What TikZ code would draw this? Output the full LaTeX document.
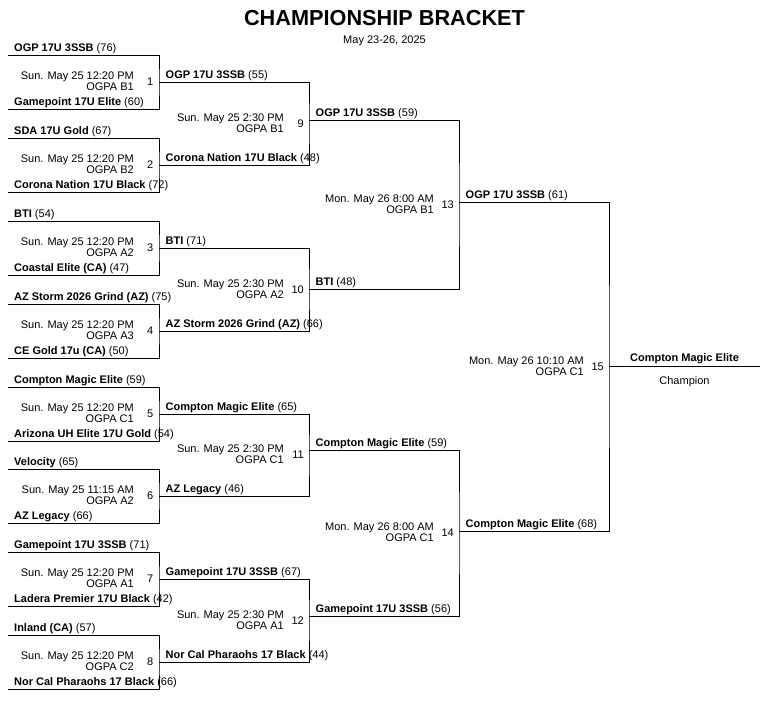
\documentclass[tikz,border=0pt]{standalone}
\usepackage{fontspec}
\setmainfont{Liberation Sans}
\usepackage{tikz}

\begin{document}
\begin{tikzpicture}[x=1pt,y=-1pt,
  bracket/.style={line width=0.9pt},
  team/.style={font=\fontsize{11}{13}\selectfont,inner sep=0pt,anchor=base west},
  slot/.style={font=\fontsize{11}{11}\selectfont,align=right,inner sep=0pt,anchor=east},
  gameno/.style={font=\fontsize{11}{13}\selectfont,inner sep=0pt,anchor=east}]
  \useasboundingbox (0,0) rectangle (779,706);
  \node[font=\bfseries\fontsize{21.7}{26}\selectfont,inner sep=0pt] (title) at (384.5,18) {CHAMPIONSHIP BRACKET};
  \node[font=\fontsize{11}{13}\selectfont,inner sep=0pt] (dates) at (384.5,41) {May 23-26, 2025};

  \coordinate (m1a) at (8,55);   \coordinate (m1b) at (8,109);  \coordinate (m1v) at (159,82);
  \coordinate (m2a) at (8,138);  \coordinate (m2b) at (8,192);  \coordinate (m2v) at (159,165);
  \coordinate (m3a) at (8,221);  \coordinate (m3b) at (8,275);  \coordinate (m3v) at (159,248);
  \coordinate (m4a) at (8,304);  \coordinate (m4b) at (8,358);  \coordinate (m4v) at (159,331);
  \coordinate (m5a) at (8,387);  \coordinate (m5b) at (8,441);  \coordinate (m5v) at (159,414);
  \coordinate (m6a) at (8,469);  \coordinate (m6b) at (8,523);  \coordinate (m6v) at (159,496);
  \coordinate (m7a) at (8,552);  \coordinate (m7b) at (8,606);  \coordinate (m7v) at (159,579);
  \coordinate (m8a) at (8,635);  \coordinate (m8b) at (8,689);  \coordinate (m8v) at (159,662);
  \coordinate (m9v) at (309,123.5);
  \coordinate (m10v) at (309,289.5);
  \coordinate (m11v) at (309,455);
  \coordinate (m12v) at (309,620.5);
  \coordinate (m13a) at (309,120); \coordinate (m13b) at (309,289); \coordinate (m13v) at (459,204.5);
  \coordinate (m14a) at (309,450); \coordinate (m14b) at (309,616); \coordinate (m14v) at (459,533);
  \coordinate (m15a) at (459,202); \coordinate (m15b) at (459,531); \coordinate (m15v) at (609,366.5);
  \coordinate (champ) at (760,366.5);

  \draw[bracket] (m1a) -| (m1v) |- (m1b);
  \draw[bracket] (m2a) -| (m2v) |- (m2b);
  \draw[bracket] (m3a) -| (m3v) |- (m3b);
  \draw[bracket] (m4a) -| (m4v) |- (m4b);
  \draw[bracket] (m5a) -| (m5v) |- (m5b);
  \draw[bracket] (m6a) -| (m6v) |- (m6b);
  \draw[bracket] (m7a) -| (m7v) |- (m7b);
  \draw[bracket] (m8a) -| (m8v) |- (m8b);
  \draw[bracket] (m1v) -| (m9v) |- (m2v);
  \draw[bracket] (m3v) -| (m10v) |- (m4v);
  \draw[bracket] (m5v) -| (m11v) |- (m6v);
  \draw[bracket] (m7v) -| (m12v) |- (m8v);
  \draw[bracket] (m13a) -| (m13v) |- (m13b);
  \draw[bracket] (m14a) -| (m14v) |- (m14b);
  \draw[bracket] (m15a) -| (m15v) |- (m15b);
  \draw[bracket] (m15v) -- (champ);

  \node[team] (t1a) at ([shift={(6pt,3.5pt)}]m1a) {\textbf{OGP 17U 3SSB} (76)};
  \node[team] (t1b) at ([shift={(6pt,3.5pt)}]m1b) {\textbf{Gamepoint 17U Elite} (60)};
  \node[team] (t2a) at ([shift={(6pt,3.5pt)}]m2a) {\textbf{SDA 17U Gold} (67)};
  \node[team] (t2b) at ([shift={(6pt,3.5pt)}]m2b) {\textbf{Corona Nation 17U Black} (72)};
  \node[team] (t3a) at ([shift={(6pt,3.5pt)}]m3a) {\textbf{BTI} (54)};
  \node[team] (t3b) at ([shift={(6pt,3.5pt)}]m3b) {\textbf{Coastal Elite (CA)} (47)};
  \node[team] (t4a) at ([shift={(6pt,3.5pt)}]m4a) {\textbf{AZ Storm 2026 Grind (AZ)} (75)};
  \node[team] (t4b) at ([shift={(6pt,3.5pt)}]m4b) {\textbf{CE Gold 17u (CA)} (50)};
  \node[team] (t5a) at ([shift={(6pt,3.5pt)}]m5a) {\textbf{Compton Magic Elite} (59)};
  \node[team] (t5b) at ([shift={(6pt,3.5pt)}]m5b) {\textbf{Arizona UH Elite 17U Gold} (54)};
  \node[team] (t6a) at ([shift={(6pt,3.5pt)}]m6a) {\textbf{Velocity} (65)};
  \node[team] (t6b) at ([shift={(6pt,3.5pt)}]m6b) {\textbf{AZ Legacy} (66)};
  \node[team] (t7a) at ([shift={(6pt,3.5pt)}]m7a) {\textbf{Gamepoint 17U 3SSB} (71)};
  \node[team] (t7b) at ([shift={(6pt,3.5pt)}]m7b) {\textbf{Ladera Premier 17U Black} (42)};
  \node[team] (t8a) at ([shift={(6pt,3.5pt)}]m8a) {\textbf{Inland (CA)} (57)};
  \node[team] (t8b) at ([shift={(6pt,3.5pt)}]m8b) {\textbf{Nor Cal Pharaohs 17 Black} (66)};

  \node[team] (t9a) at ([shift={(6.5pt,3.5pt)}]m1v) {\textbf{OGP 17U 3SSB} (55)};
  \node[team] (t9b) at ([shift={(6.5pt,3.5pt)}]m2v) {\textbf{Corona Nation 17U Black} (48)};
  \node[team] (t10a) at ([shift={(6.5pt,3.5pt)}]m3v) {\textbf{BTI} (71)};
  \node[team] (t10b) at ([shift={(6.5pt,3.5pt)}]m4v) {\textbf{AZ Storm 2026 Grind (AZ)} (66)};
  \node[team] (t11a) at ([shift={(6.5pt,3.5pt)}]m5v) {\textbf{Compton Magic Elite} (65)};
  \node[team] (t11b) at ([shift={(6.5pt,3.5pt)}]m6v) {\textbf{AZ Legacy} (46)};
  \node[team] (t12a) at ([shift={(6.5pt,3.5pt)}]m7v) {\textbf{Gamepoint 17U 3SSB} (67)};
  \node[team] (t12b) at ([shift={(6.5pt,3.5pt)}]m8v) {\textbf{Nor Cal Pharaohs 17 Black} (44)};
  \node[team] (t13a) at ([shift={(6.5pt,3.5pt)}]m13a) {\textbf{OGP 17U 3SSB} (59)};
  \node[team] (t13b) at ([shift={(6.5pt,3.5pt)}]m13b) {\textbf{BTI} (48)};
  \node[team] (t14a) at ([shift={(6.5pt,3.5pt)}]m14a) {\textbf{Compton Magic Elite} (59)};
  \node[team] (t14b) at ([shift={(6.5pt,3.5pt)}]m14b) {\textbf{Gamepoint 17U 3SSB} (56)};
  \node[team] (t15a) at ([shift={(6.5pt,3.5pt)}]m15a) {\textbf{OGP 17U 3SSB} (61)};
  \node[team] (t15b) at ([shift={(6.5pt,3.5pt)}]m15b) {\textbf{Compton Magic Elite} (68)};
  \node[team,anchor=base] (winner) at ([shift={(75.5pt,5pt)}]m15v) {\textbf{Compton Magic Elite}};
  \node[team,anchor=base] (champlabel) at ([shift={(75.5pt,-17.5pt)}]m15v) {Champion};

  \node[slot] (s1) at ([shift={(-25pt,0.5pt)}]m1v) {Sun. May 25 12:20 PM\\OGPA B1};
  \node[slot] (s2) at ([shift={(-25pt,0.5pt)}]m2v) {Sun. May 25 12:20 PM\\OGPA B2};
  \node[slot] (s3) at ([shift={(-25pt,0.5pt)}]m3v) {Sun. May 25 12:20 PM\\OGPA A2};
  \node[slot] (s4) at ([shift={(-25pt,0.5pt)}]m4v) {Sun. May 25 12:20 PM\\OGPA A3};
  \node[slot] (s5) at ([shift={(-25pt,0.5pt)}]m5v) {Sun. May 25 12:20 PM\\OGPA C1};
  \node[slot] (s6) at ([shift={(-25pt,0.5pt)}]m6v) {Sun. May 25 11:15 AM\\OGPA A2};
  \node[slot] (s7) at ([shift={(-25pt,0.5pt)}]m7v) {Sun. May 25 12:20 PM\\OGPA A1};
  \node[slot] (s8) at ([shift={(-25pt,0.5pt)}]m8v) {Sun. May 25 12:20 PM\\OGPA C2};
  \node[slot] (s9) at ([shift={(-25pt,0.5pt)}]m9v) {Sun. May 25 2:30 PM\\OGPA B1};
  \node[slot] (s10) at ([shift={(-25pt,0.5pt)}]m10v) {Sun. May 25 2:30 PM\\OGPA A2};
  \node[slot] (s11) at ([shift={(-25pt,0.5pt)}]m11v) {Sun. May 25 2:30 PM\\OGPA C1};
  \node[slot] (s12) at ([shift={(-25pt,0.5pt)}]m12v) {Sun. May 25 2:30 PM\\OGPA A1};
  \node[slot] (s13) at ([shift={(-25pt,0.5pt)}]m13v) {Mon. May 26 8:00 AM\\OGPA B1};
  \node[slot] (s14) at ([shift={(-25pt,0.5pt)}]m14v) {Mon. May 26 8:00 AM\\OGPA C1};
  \node[slot] (s15) at ([shift={(-25pt,0.5pt)}]m15v) {Mon. May 26 10:10 AM\\OGPA C1};

  \node[gameno] (g1) at ([xshift=-5.5pt]m1v) {1};
  \node[gameno] (g2) at ([xshift=-5.5pt]m2v) {2};
  \node[gameno] (g3) at ([xshift=-5.5pt]m3v) {3};
  \node[gameno] (g4) at ([xshift=-5.5pt]m4v) {4};
  \node[gameno] (g5) at ([xshift=-5.5pt]m5v) {5};
  \node[gameno] (g6) at ([xshift=-5.5pt]m6v) {6};
  \node[gameno] (g7) at ([xshift=-5.5pt]m7v) {7};
  \node[gameno] (g8) at ([xshift=-5.5pt]m8v) {8};
  \node[gameno] (g9) at ([xshift=-5pt]m9v) {9};
  \node[gameno] (g10) at ([xshift=-5pt]m10v) {10};
  \node[gameno] (g11) at ([xshift=-5pt]m11v) {11};
  \node[gameno] (g12) at ([xshift=-5pt]m12v) {12};
  \node[gameno] (g13) at ([xshift=-5pt]m13v) {13};
  \node[gameno] (g14) at ([xshift=-5pt]m14v) {14};
  \node[gameno] (g15) at ([xshift=-5pt]m15v) {15};
\end{tikzpicture}
\end{document}
